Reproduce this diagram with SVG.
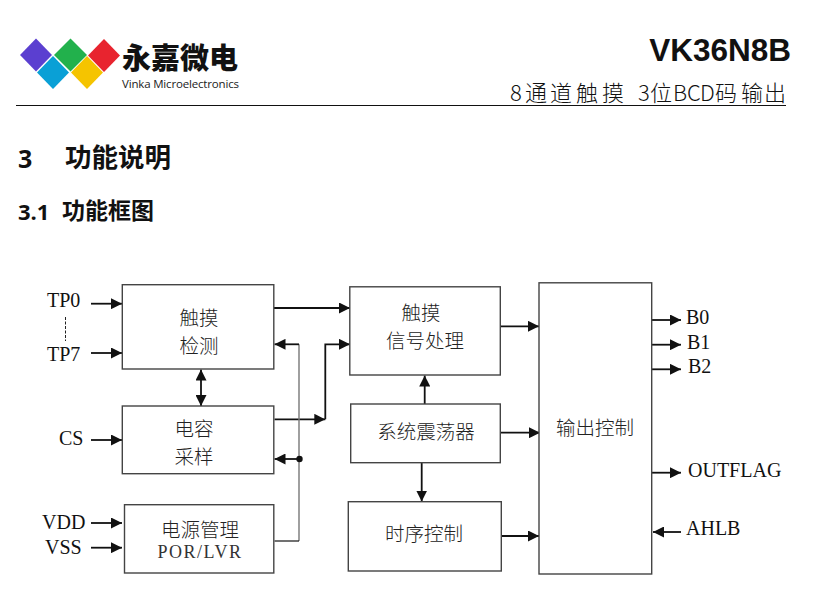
<svg xmlns="http://www.w3.org/2000/svg" width="825" height="602" viewBox="0 0 825 602">
<style>
.box{fill:#fff;stroke:#444;stroke-width:1.4}
.cn{font-family:"Noto Sans CJK SC","Liberation Serif",sans-serif;font-size:19.5px;font-weight:300;fill:#222;text-anchor:middle}
.lbl{font-family:"Liberation Serif",serif;font-size:20px;fill:#111}
.w{fill:none;stroke:#111;stroke-width:1.8}
.g{fill:none;stroke:#777;stroke-width:1.4}
.h{font-family:"Noto Sans CJK SC",sans-serif;font-weight:700;fill:#111}
.hn{font-family:"Open Sans","Liberation Sans",sans-serif;font-weight:700;fill:#111}
</style>
<defs>
<marker id="a" viewBox="0 0 10 10" refX="10" refY="5" markerWidth="11" markerHeight="11" markerUnits="userSpaceOnUse" orient="auto-start-reverse"><path d="M0 0L10 5L0 10Z" fill="#111"/></marker>
</defs>
<g id="logo">
<polygon points="20,55 36,38.500 52,55 36,71.500" fill="#5b3fd0"/>
<polygon points="54,55 70.500,38.500 87,55 70.500,71.500" fill="#22b14c"/>
<polygon points="88,55.500 104,39 120,55.500 104,72" fill="#e8242f"/>
<polygon points="37,72.500 53,56 69,72.500 53,89" fill="#0aa0d6"/>
<polygon points="71,72.500 87,56 103,72.500 87,89" fill="#f5c400"/>
<text x="122" y="69" font-family="Noto Sans CJK SC,sans-serif" font-weight="900" font-size="29" fill="#111" textLength="116" lengthAdjust="spacing">永嘉微电</text>
<text x="122" y="88" font-family="Open Sans,sans-serif" font-size="11.500" fill="#222" textLength="117" lengthAdjust="spacing">Vinka Microelectronics</text>
</g>
<g id="header">
<text x="791" y="60.500" font-family="Liberation Sans,sans-serif" font-weight="700" font-size="31.500" fill="#111" text-anchor="end">VK36N8B</text>
<text x="510 525 550 576 602 628 638 650 673 687 700 715 741 764" y="101" font-family="Noto Sans CJK SC,sans-serif" font-weight="300" font-size="22" fill="#111">8通道触摸 3位BCD码输出</text>
<line x1="16" y1="105.500" x2="786" y2="105.500" stroke="#111" stroke-width="1"/>
</g>
<g id="headings">
<text x="18" y="168" class="hn" font-size="25">3</text>
<text x="65" y="167" class="h" font-size="26.500">功能说明</text>
<text x="18" y="220" class="hn" font-size="22">3.1</text>
<text x="62" y="219" class="h" font-size="23">功能框图</text>
</g>
<g id="connectors">
<line class="w" x1="91" y1="303.700" x2="122" y2="303.700" marker-end="url(#a)"/>
<line class="w" x1="91" y1="353" x2="122" y2="353" marker-end="url(#a)"/>
<line x1="65.500" y1="317" x2="65.500" y2="341" stroke="#222" stroke-width="1" stroke-dasharray="3 1.500"/>
<line class="w" x1="91" y1="440" x2="122" y2="440" marker-end="url(#a)"/>
<line class="w" x1="91" y1="523" x2="122" y2="523" marker-end="url(#a)"/>
<line class="w" x1="91" y1="547.700" x2="122" y2="547.700" marker-end="url(#a)"/>
<line class="w" x1="274" y1="308" x2="350" y2="308" marker-end="url(#a)"/>
<path class="w" d="M274.500 419.300H325.300" marker-end="url(#a)"/>
<path class="w" d="M325.300 419.300V344.300H350" marker-end="url(#a)"/>
<path class="g" d="M299 344.300V541"/>
<path class="w" d="M299 344.300H274.500" marker-end="url(#a)"/>
<path class="w" d="M299 459H274.500" marker-end="url(#a)"/>
<path class="w" d="M299 541H274.500" style="stroke-width:1.200"/>
<circle cx="299.500" cy="459" r="3.200" fill="#111"/>
<line class="w" x1="201" y1="369.500" x2="201" y2="406" marker-start="url(#a)" marker-end="url(#a)"/>
<line class="w" x1="500.500" y1="326.300" x2="539" y2="326.300" marker-end="url(#a)"/>
<line class="w" x1="424.700" y1="404" x2="424.700" y2="375.500" marker-end="url(#a)"/>
<line class="w" x1="500.500" y1="432.700" x2="540" y2="432.700" marker-end="url(#a)"/>
<line class="w" x1="421.700" y1="463" x2="421.700" y2="501.500" marker-end="url(#a)"/>
<line class="w" x1="501.500" y1="536" x2="539" y2="536" marker-end="url(#a)"/>
<line class="w" x1="652" y1="320" x2="681" y2="320" marker-end="url(#a)"/>
<line class="w" x1="652" y1="344.700" x2="681" y2="344.700" marker-end="url(#a)"/>
<line class="w" x1="652" y1="369.300" x2="681" y2="369.300" marker-end="url(#a)"/>
<line class="w" x1="652" y1="472.700" x2="681" y2="472.700" marker-end="url(#a)"/>
<line class="w" x1="681" y1="532" x2="653" y2="532" marker-end="url(#a)"/>
</g>
<g id="touch-detect"><rect class="box" x="122.300" y="284.700" width="151.500" height="84.300"/><text class="cn" x="199" y="325">触摸</text><text class="cn" x="199" y="353">检测</text></g>
<g id="cap-sample"><rect class="box" x="122.300" y="406" width="151.500" height="67.700"/><text class="cn" x="194" y="436">电容</text><text class="cn" x="194" y="464">采样</text></g>
<g id="power"><rect class="box" x="124.500" y="504.700" width="149.300" height="68.300"/><text class="cn" x="200" y="537">电源管理</text><text x="200" y="558" font-family="Liberation Serif,serif" font-size="18" fill="#333" text-anchor="middle" letter-spacing="1.500">POR/LVR</text></g>
<g id="touch-proc"><rect class="box" x="349.800" y="286.800" width="150.500" height="88.200"/><text class="cn" x="421" y="320">触摸</text><text class="cn" x="425" y="348">信号处理</text></g>
<g id="osc"><rect class="box" x="350.700" y="404" width="149.600" height="58.700"/><text class="cn" x="426" y="439">系统震荡器</text></g>
<g id="timing"><rect class="box" x="348.300" y="501.700" width="153" height="69.300"/><text class="cn" x="424" y="541">时序控制</text></g>
<g id="output"><rect class="box" x="539" y="282.800" width="112.700" height="291.200"/><text class="cn" x="595" y="435">输出控制</text></g>
<g id="labels">
<text class="lbl" x="47" y="307">TP0</text><text class="lbl" x="47" y="361">TP7</text><text class="lbl" x="59" y="445">CS</text><text class="lbl" x="42" y="529">VDD</text><text class="lbl" x="45" y="554">VSS</text>
<text class="lbl" x="686" y="324">B0</text><text class="lbl" x="687" y="349">B1</text><text class="lbl" x="688" y="373">B2</text><text class="lbl" x="688" y="477">OUTFLAG</text><text class="lbl" x="686" y="535">AHLB</text>
</g>
</svg>
